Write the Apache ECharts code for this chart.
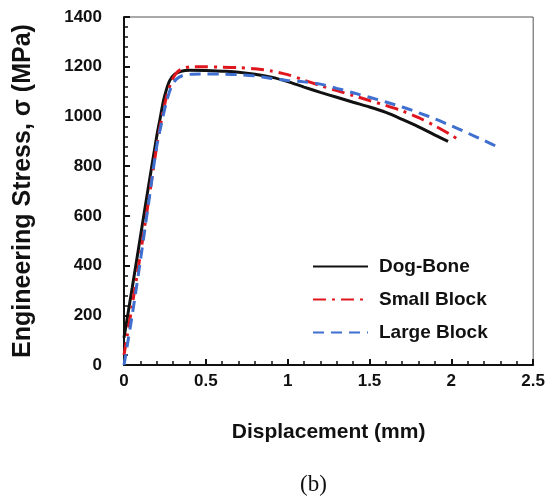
<!DOCTYPE html>
<html lang="en">
<head>
  <meta charset="UTF-8">
  <title>Engineering stress vs displacement</title>
  <style>
    html, body { margin: 0; padding: 0; background: #fff; }
    #main { width: 548px; height: 502px; }
  </style>
</head>
<body>
  <div id="main"></div>
  <script src="https://cdn.jsdelivr.net/npm/echarts@6/dist/echarts.min.js"></script>
  <script>
    // values (displacement mm, stress MPa)
    var seriesNames = ['Dog-Bone', 'Small Block', 'Large Block'];

    var dogBoneX = [0, 0.05, 0.1, 0.15, 0.2, 0.22, 0.24, 0.26, 0.28, 0.31, 0.35, 0.4, 0.5, 0.6, 0.7, 0.8, 0.9, 1.0, 1.1, 1.2, 1.3, 1.4, 1.5, 1.6, 1.7, 1.8, 1.9, 1.98];
    var dogBoneY = [110, 310, 515, 720, 920, 990, 1060, 1110, 1145, 1170, 1182, 1186, 1185, 1182, 1178, 1170, 1158, 1140, 1118, 1097, 1077, 1057, 1038, 1016, 988, 958, 925, 900];

    var smallX = [0, 0.05, 0.1, 0.15, 0.2, 0.23, 0.26, 0.29, 0.32, 0.36, 0.42, 0.5, 0.6, 0.7, 0.8, 0.9, 1.0, 1.1, 1.2, 1.3, 1.4, 1.5, 1.6, 1.7, 1.8, 1.9, 2.0, 2.03];
    var smallY = [40, 240, 445, 660, 880, 990, 1080, 1140, 1175, 1193, 1200, 1200, 1198, 1196, 1192, 1183, 1168, 1146, 1124, 1104, 1084, 1064, 1044, 1022, 995, 962, 925, 912];

    var largeX = [0, 0.05, 0.1, 0.15, 0.2, 0.23, 0.26, 0.29, 0.32, 0.36, 0.42, 0.5, 0.6, 0.7, 0.8, 0.9, 1.0, 1.1, 1.2, 1.3, 1.4, 1.5, 1.6, 1.7, 1.8, 1.9, 2.0, 2.1, 2.2, 2.3];
    var largeY = [0, 200, 420, 650, 880, 975, 1060, 1120, 1150, 1165, 1170, 1171, 1170, 1168, 1163, 1153, 1145, 1139, 1130, 1113, 1095, 1077, 1058, 1038, 1015, 990, 962, 933, 903, 872];

    var xTicks = [0, 0.5, 1, 1.5, 2, 2.5];
    var yTicks = [0, 200, 400, 600, 800, 1000, 1200, 1400];

    function pairs(xs, ys) {
      return xs.map(function (x, i) { return [x, ys[i]]; });
    }

    var font = 'Liberation Sans, Arial, sans-serif';
    var chart = echarts.init(document.getElementById('main'));

    var option = {
      backgroundColor: '#fff',
      animation: false,
      textStyle: { fontFamily: font },
      grid: {
        left: 124, right: 13, top: 17, bottom: 137,
        show: true, borderColor: '#555', borderWidth: 1
      },
      legend: {
        orient: 'vertical',
        left: 307, top: 252,
        itemWidth: 55, itemHeight: 14, itemGap: 14,
        itemStyle: { opacity: 0 },
        textStyle: { fontFamily: font, fontWeight: 'bold', fontSize: 19, color: '#111', padding: [0, 0, 0, 6] },
        data: seriesNames
      },
      xAxis: {
        type: 'value',
        min: xTicks[0], max: xTicks[xTicks.length - 1], interval: 0.5,
        name: 'Displacement (mm)',
        nameLocation: 'middle', nameGap: 57,
        nameTextStyle: { fontFamily: font, fontWeight: 'bold', fontSize: 21, color: '#111' },
        axisLine: { lineStyle: { color: '#111', width: 2 } },
        axisTick: { inside: true, length: 6, lineStyle: { color: '#111', width: 2 } },
        minorTick: { show: true, splitNumber: 5, length: 4, lineStyle: { color: '#111', width: 1.5 } },
        splitLine: { show: false },
        axisLabel: { margin: 8, fontFamily: font, fontWeight: 'bold', fontSize: 17, color: '#111' }
      },
      yAxis: {
        type: 'value',
        min: yTicks[0], max: yTicks[yTicks.length - 1], interval: 200,
        name: 'Engineering Stress, σ (MPa)',
        nameLocation: 'middle', nameGap: 88,
        nameTextStyle: { fontFamily: font, fontWeight: 'bold', fontSize: 25, color: '#111' },
        axisLine: { lineStyle: { color: '#111', width: 2 } },
        axisTick: { inside: true, length: 6, lineStyle: { color: '#111', width: 2 } },
        minorTick: { show: true, splitNumber: 5, length: 4, lineStyle: { color: '#111', width: 1.5 } },
        splitLine: { show: false },
        axisLabel: {
          margin: 22, fontFamily: font, fontWeight: 'bold', fontSize: 17, color: '#111',
          formatter: function (v) { return String(v); }
        }
      },
      graphic: [{
        type: 'text', left: 300, top: 473,
        style: { text: '(b)', font: '23px "Liberation Serif", "Times New Roman", serif', fill: '#111' }
      }],
      series: [
        {
          name: seriesNames[0], type: 'line', smooth: 0.3, symbol: 'none',
          lineStyle: { color: '#111', width: 3, type: 'solid' },
          itemStyle: { color: '#111' },
          data: pairs(dogBoneX, dogBoneY)
        },
        {
          name: seriesNames[1], type: 'line', smooth: 0.3, symbol: 'none',
          lineStyle: { color: '#e0161e', width: 3, type: [13, 6, 3, 6] },
          itemStyle: { color: '#e0161e' },
          data: pairs(smallX, smallY)
        },
        {
          name: seriesNames[2], type: 'line', smooth: 0.3, symbol: 'none',
          lineStyle: { color: '#3f6fcf', width: 3, type: [11, 7] },
          itemStyle: { color: '#3f6fcf' },
          data: pairs(largeX, largeY)
        }
      ]
    };

    chart.setOption(option);
  </script>
</body>
</html>
